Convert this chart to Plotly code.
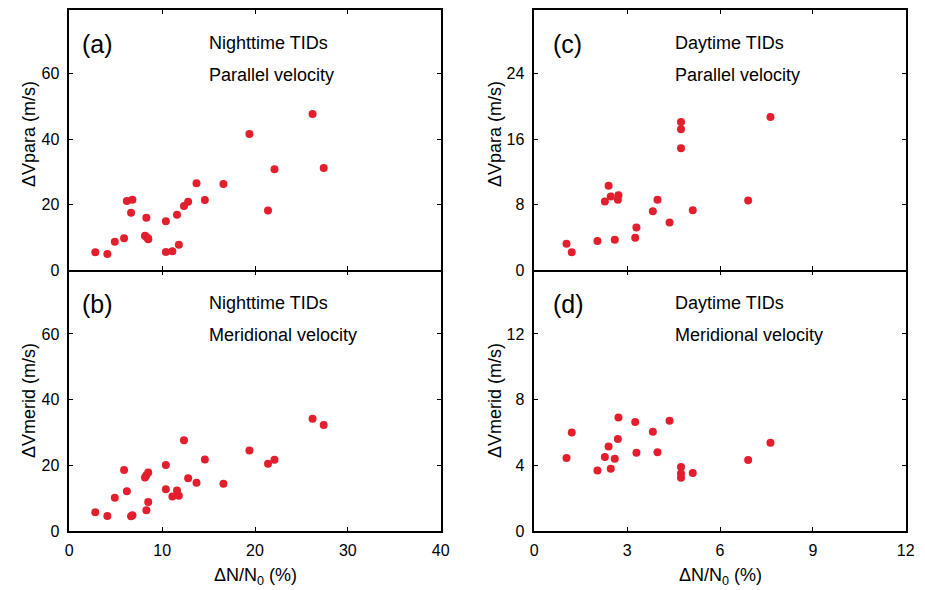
import plotly.graph_objects as go

# ---- data ----
night_dn = [2.8, 4.1, 4.9, 5.9, 6.2, 6.65, 6.8, 8.15, 8.3, 8.3, 8.5, 8.5, 10.4, 10.4,
            11.1, 11.6, 11.8, 12.35, 12.8, 13.7, 14.6, 16.6, 19.4, 21.4, 22.1, 26.2, 27.4]
night_vpara = [5.4, 4.9, 8.6, 9.7, 21.1, 17.5, 21.5, 10.5, 16.0, 10.1, 9.6, 9.4, 14.9, 5.5,
               5.7, 16.9, 7.7, 19.6, 20.9, 26.5, 21.4, 26.3, 41.6, 18.2, 30.8, 47.7, 31.2]
night_vmerid = [5.7, 4.6, 10.1, 18.6, 12.1, 4.5, 4.8, 16.3, 6.3, 17.0, 17.8, 8.8, 20.1, 12.7,
                10.5, 12.3, 10.7, 27.6, 16.1, 14.7, 21.8, 14.4, 24.5, 20.5, 21.7, 34.2, 32.3]

day_dn = [1.04, 1.21, 2.04, 2.28, 2.40, 2.47, 2.6, 2.72, 2.70, 3.26, 3.30, 3.83, 3.98, 4.37,
          4.74, 4.74, 4.74, 5.12, 6.91, 7.63]
day_vpara = [3.2, 2.16, 3.54, 8.39, 10.3, 9.0, 3.7, 9.15, 8.6, 3.95, 5.2, 7.2, 8.6, 5.8,
             18.1, 17.2, 14.9, 7.3, 8.5, 18.7]
day_vmerid = [4.44, 6.0, 3.68, 4.5, 5.15, 3.79, 4.4, 6.92, 5.6, 6.64, 4.76, 6.05, 4.8, 6.72,
              3.9, 3.5, 3.25, 3.54, 4.32, 5.37]

night_xticks = [0, 10, 20, 30, 40]
night_yticks = [0, 20, 40, 60]
day_xticks = [0, 3, 6, 9, 12]
day_para_yticks = [0, 8, 16, 24]
day_merid_yticks = [0, 4, 8, 12]

RED = "#E31E2D"
FONT = "Liberation Sans, Arial, Helvetica, sans-serif"
W, H = 925, 590

fig = go.Figure()
traces = [
    ("x", "y", night_dn, night_vpara),
    ("x2", "y2", night_dn, night_vmerid),
    ("x3", "y3", day_dn, day_vpara),
    ("x4", "y4", day_dn, day_vmerid),
]
for xa, ya, xs, ys in traces:
    fig.add_trace(go.Scatter(x=xs, y=ys, xaxis=xa, yaxis=ya, mode="markers",
                             marker=dict(color=RED, size=8, line=dict(width=0)),
                             showlegend=False, hoverinfo="skip"))

LW = 1.6
xl = [69.3 / W, 440.7 / W]
xr = [534.3 / W, 905.7 / W]
yt = [1 - 270 / H, 1 - 10 / H]
yb = [1 - 531 / H, 1 - (270 + LW) / H]

common = dict(showline=True, linecolor="black", linewidth=LW, mirror="ticks",
              ticks="inside", ticklen=4, tickwidth=1.2, tickcolor="black",
              showgrid=False, zeroline=False, tickfont=dict(size=16, color="black", family=FONT),
              automargin=False)

def xaxis(domain, rng, tv, anchor, labels):
    return dict(common, domain=domain, range=rng, tickvals=tv, anchor=anchor,
                showticklabels=labels, ticklabelstandoff=4)

def yaxis(domain, rng, tv, anchor):
    return dict(common, domain=domain, range=rng, tickvals=tv, anchor=anchor,
                ticklabelstandoff=5)

fig.update_layout(
    width=W, height=H, margin=dict(l=0, r=0, t=0, b=0),
    paper_bgcolor="white", plot_bgcolor="white",
    font=dict(family=FONT, color="black"),
    xaxis=xaxis(xl, [0, 40], night_xticks, "y", False),
    xaxis2=xaxis(xl, [0, 40], night_xticks, "y2", True),
    xaxis3=xaxis(xr, [0, 12], day_xticks, "y3", False),
    xaxis4=xaxis(xr, [0, 12], day_xticks, "y4", True),
    yaxis=yaxis(yt, [0, 79.5], night_yticks, "x"),
    yaxis2=yaxis(yb, [0, 79.0], night_yticks, "x2"),
    yaxis3=yaxis(yt, [0, 31.8], day_para_yticks, "x3"),
    yaxis4=yaxis(yb, [0, 15.8], day_merid_yticks, "x4"),
)

def ann(text, X, Y, size, xanchor="left", angle=0):
    fig.add_annotation(text=text, x=X / W, y=1 - Y / H, xref="paper", yref="paper",
                       xanchor=xanchor, yanchor="middle", showarrow=False, textangle=angle,
                       font=dict(size=size, color="black", family=FONT))

labels = [
    ("(a)", 80, 44, "Nighttime TIDs", "Parallel velocity", 207),
    ("(b)", 80, 304, "Nighttime TIDs", "Meridional velocity", 207),
    ("(c)", 551, 44, "Daytime TIDs", "Parallel velocity", 673),
    ("(d)", 551, 304, "Daytime TIDs", "Meridional velocity", 673),
]
for tag, tx, ty, l1, l2, lx in labels:
    ann(tag, tx, ty, 25)
    ann(l1, lx, ty - 1, 18)
    ann(l2, lx, ty + 31, 18)

# axis titles
xt = "ΔN/N<sub>0</sub> (%)"
ann(xt, 255, 576, 18, "center")
ann(xt, 720, 576, 18, "center")
ann("ΔVpara (m/s)", 29, 134, 18, "center", -90)
ann("ΔVmerid (m/s)", 29, 401, 18, "center", -90)
ann("ΔVpara (m/s)", 495, 134, 18, "center", -90)
ann("ΔVmerid (m/s)", 495, 401, 18, "center", -90)

fig.write_html("out.html")
